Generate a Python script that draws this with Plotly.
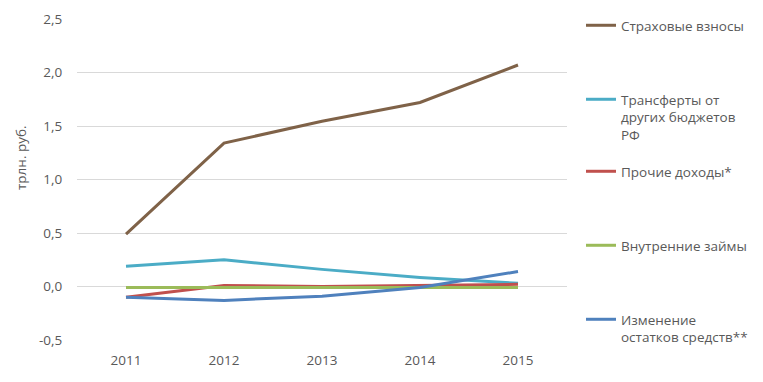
import plotly.graph_objects as go

years = ["2011", "2012", "2013", "2014", "2015"]
names = ["Страховые взносы", "Трансферты от<br>других бюджетов<br>РФ", "Прочие доходы*",
         "Внутренние займы", "Изменение<br>остатков средств**"]
insurance = [0.49, 1.34, 1.545, 1.72, 2.07]
transfers = [0.19, 0.25, 0.16, 0.085, 0.03]
other = [-0.10, 0.01, 0.00, 0.01, 0.02]
loans = [-0.01, -0.01, -0.01, -0.01, -0.01]
balance = [-0.10, -0.13, -0.09, -0.01, 0.14]
series = [insurance, transfers, other, loans, balance]
colors = ["#7f6248", "#4bacc6", "#c0504d", "#9bbb59", "#4f81bd"]
y_ticks = [-0.5, 0.0, 0.5, 1.0, 1.5, 2.0, 2.5]
y_labels = ["-0,5", "0,0", "0,5", "1,0", "1,5", "2,0", "2,5"]

FONT = "Open Sans"
FS = 13.5
TXT = "#595959"

fig = go.Figure()
legend_ids = ["legend", "legend2", "legend3", "legend4", "legend5"]
for i, (nm, vals, col) in enumerate(zip(names, series, colors)):
    fig.add_trace(go.Scatter(x=years, y=vals, name=nm, mode="lines",
                             line=dict(color=col, width=3),
                             legend=legend_ids[i]))

T, B, L, R = 19, 42, 77, 196
H, W = 382, 763
ph = H - T - B
pw = W - L - R
legend_first_line_px = [26, 100, 172, 246, 320]
layout_legends = {}
for lid, py in zip(legend_ids, legend_first_line_px):
    ypaper = (H - B - (py - 16)) / ph
    layout_legends[lid] = dict(x=(581 - L) / pw, xanchor="left", y=ypaper, yanchor="top",
                               font=dict(family=FONT, size=FS, color=TXT),
                               bgcolor="rgba(0,0,0,0)", valign="top",
                               itemwidth=30, tracegroupgap=0)

fig.update_layout(
    width=W, height=H,
    margin=dict(l=L, r=R, t=T, b=B, autoexpand=False),
    paper_bgcolor="white", plot_bgcolor="white",
    font=dict(family=FONT, size=FS, color=TXT),
    showlegend=True,
    xaxis=dict(type="category", range=[-0.5, 4.5], showgrid=False, showline=False,
               zeroline=False, ticks="outside", ticklen=8, tickcolor="rgba(0,0,0,0)",
               tickfont=dict(family=FONT, size=FS, color=TXT)),
    yaxis=dict(range=[-0.5, 2.5], tickvals=y_ticks, ticktext=y_labels,
               showgrid=True, gridcolor="#d9d9d9", gridwidth=1, zeroline=False,
               showline=False, ticks="outside", ticklen=11, tickcolor="rgba(0,0,0,0)",
               tickfont=dict(family=FONT, size=FS, color=TXT)),
    annotations=[dict(text="трлн. руб.", xref="paper", yref="paper",
                      x=(21 - L) / pw, y=(H - B - 158) / ph, textangle=-90,
                      showarrow=False, xanchor="center", yanchor="middle",
                      font=dict(family=FONT, size=FS, color=TXT))],
    **layout_legends,
)

fig.write_html("out.html", config={"displayModeBar": False},
               post_script="document.body.style.margin='0';")
